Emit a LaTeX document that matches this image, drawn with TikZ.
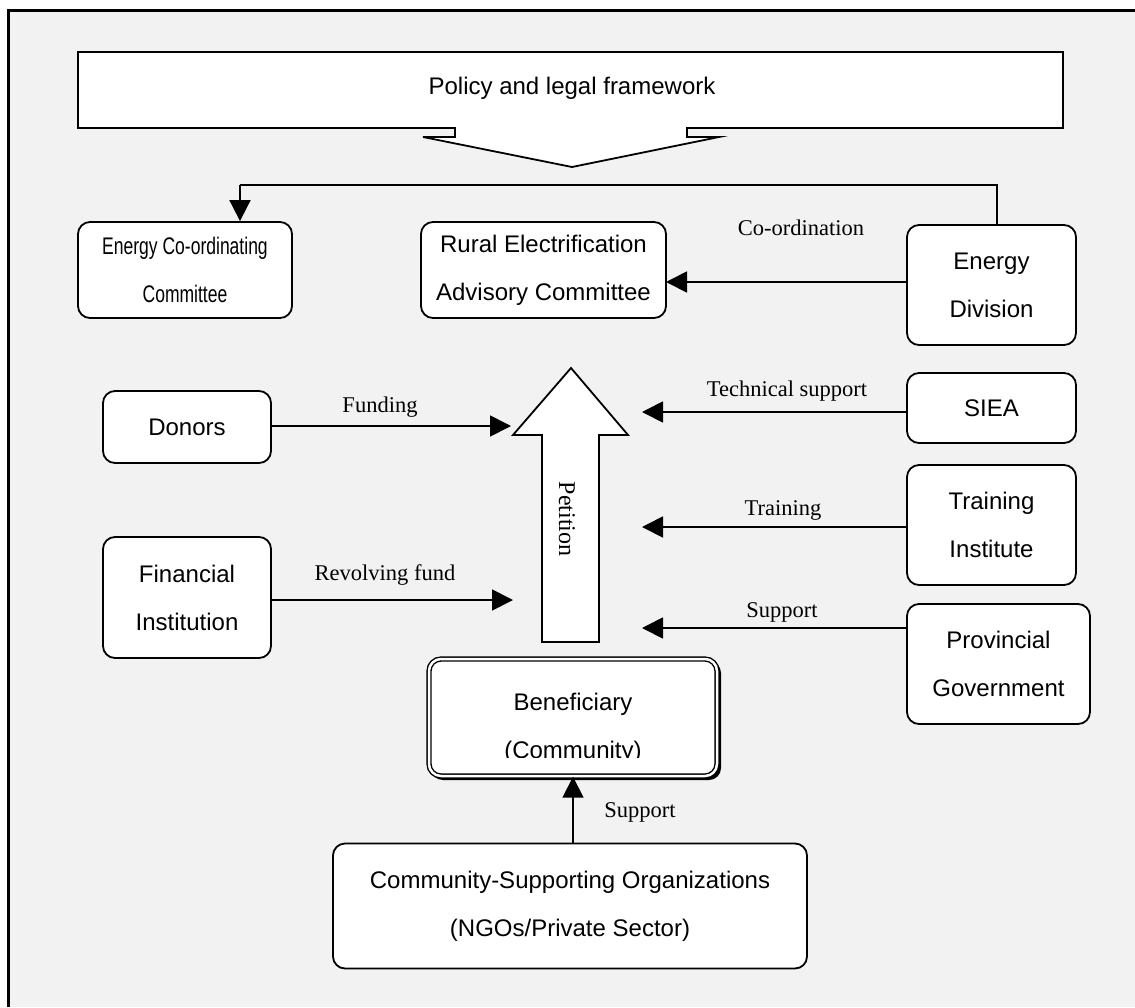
\documentclass[tikz,border=0pt]{standalone}
\usepackage{fontspec}
\setmainfont{Liberation Serif}
\newfontfamily\arialfont{Liberation Sans}
\usetikzlibrary{arrows.meta}
\definecolor{bggray}{RGB}{242,242,242}
\tikzset{
  boxnode/.style={draw=black, line width=1.8pt, fill=white, rounded corners=12pt,
    align=center, font=\arialfont\fontsize{24}{48}\selectfont, inner sep=0pt},
  conn/.style={draw=black, line width=1.8pt, -{Triangle[length=21pt,width=21pt]}},
  plainline/.style={draw=black, line width=1.8pt},
  lbl/.style={font=\fontsize{22.5}{26}\selectfont, inner sep=0pt}
}
\begin{document}
\begin{tikzpicture}[x=1pt,y=-1pt]
\useasboundingbox (0,0) rectangle (1135,1007);
% background and frame
\fill[white] (0,0) rectangle (1135,1007);
\fill[bggray] (8.5,10.5) rectangle (1135,1007);
\draw[line width=3pt] (8.5,1007) -- (8.5,10.5) -- (1135,10.5);

% policy box with arrow
\draw[line width=1.8pt, fill=white] (78,52) -- (1063,52) -- (1063,128) -- (687,128) -- (687,137)
  -- (719,137) -- (572,167) -- (423,137) -- (455,137) -- (455,128) -- (78,128) -- cycle;
\node[font=\arialfont\fontsize{24}{48}\selectfont] (policy) at (572,88) {Policy and legal framework};

% boxes
\node[boxnode, minimum width=214pt, minimum height=96pt] (ecc) at (185,270) {\scalebox{0.73}[1]{Energy Co-ordinating}\\\scalebox{0.73}[1]{Committee}};
\node[boxnode, minimum width=245pt, minimum height=96pt] (reac) at (543.5,270) {Rural Electrification\\Advisory Committee};
\node[boxnode, minimum width=169pt, minimum height=120pt] (ed) at (991.5,285) {Energy\\Division};
\node[boxnode, minimum width=168pt, minimum height=72pt] (donors) at (187,427) {Donors};
\node[boxnode, minimum width=168pt, minimum height=121pt] (fin) at (187,597.5) {Financial\\Institution};
\node[boxnode, minimum width=169pt, minimum height=70pt] (siea) at (991.5,408) {SIEA};
\node[boxnode, minimum width=169pt, minimum height=120pt] (train) at (991.5,525) {Training\\Institute};
\node[boxnode, minimum width=183pt, minimum height=120pt] (prov) at (998.5,664) {Provincial\\Government};
\node[boxnode, minimum width=474pt, minimum height=125pt] (cso) at (570,906) {Community-Supporting Organizations\\(NGOs/Private Sector)};

% beneficiary box (double border with shadow)
\fill[black, rounded corners=12pt] (431,661) rectangle (721,780);
\node[boxnode, double, double distance=2.5pt, line width=1.4pt, minimum width=288pt, minimum height=117pt] (benef) at (573,717.5) {};
\begin{scope}
  \clip (430,660) rectangle (716,757);
  \node[font=\arialfont\fontsize{24}{48}\selectfont, anchor=base] (benefA) at (573,710.5) {Beneficiary};
  \node[font=\arialfont\fontsize{24}{48}\selectfont, anchor=base] (benefB) at (573,758.5) {(Community)};
\end{scope}

% petition arrow
\draw[line width=1.8pt, fill=white] (542,642) -- (542,435) -- (513,435) -- (571,368) -- (628,435)
  -- (599,435) -- (599,642) -- cycle;
\node[font=\fontsize{24}{28}\selectfont, rotate=-90] (petition) at (567,519) {Petition};

% connector end points at the petition arrow
\coordinate (fundEnd) at (511,426);
\coordinate (revEnd) at (513,600);
\coordinate (tsEnd) at (642,412);
\coordinate (trEnd) at (642,527);
\coordinate (supEnd) at (642,628);
\coordinate (coEnd) at (666,282);
\coordinate (edTop) at (997,185);
\coordinate (bend) at (240,185);

% connectors
\draw[plainline] (ed.north -| edTop) -- (edTop) -- (bend);
\draw[conn] (bend) -- (bend |- ecc.north);
\draw[conn] (ed.west |- coEnd) -- (coEnd);
\draw[conn] (donors.east |- fundEnd) -- (fundEnd);
\draw[conn] (fin.east |- revEnd) -- (revEnd);
\draw[conn] (siea.west |- tsEnd) -- (tsEnd);
\draw[conn] (train.west |- trEnd) -- (trEnd);
\draw[conn] (prov.west |- supEnd) -- (supEnd);
\draw[conn] (cso.north -| benef.south) -- (benef.south);

% labels
\node[lbl] (lco) at (801,228) {Co-ordination};
\node[lbl] (lfund) at (380,407) {Funding};
\node[lbl] (lrev) at (385,575) {Revolving fund};
\node[lbl] (lts) at (787,391) {Technical support};
\node[lbl] (ltr) at (783,510) {Training};
\node[lbl] (lsup) at (782,612) {Support};
\node[lbl] (lsup2) at (640,812) {Support};
\end{tikzpicture}
\end{document}
